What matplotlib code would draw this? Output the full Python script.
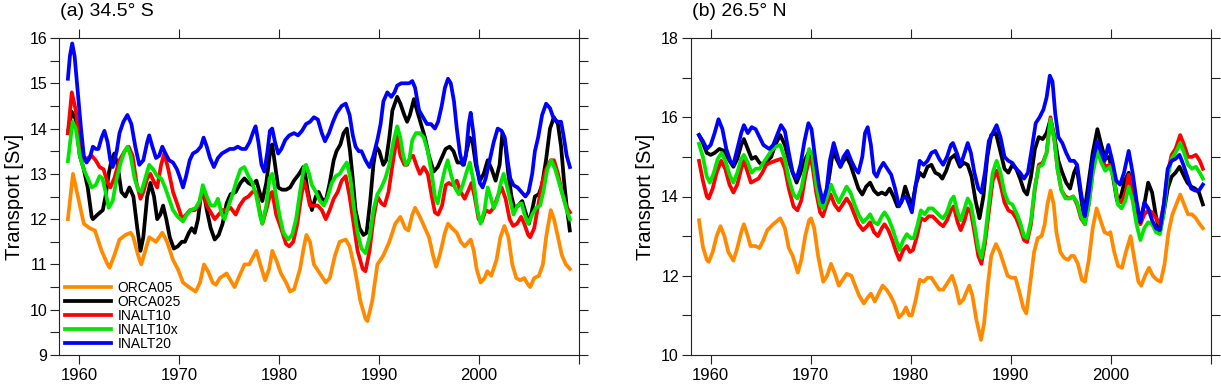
"""Two-panel AMOC transport time series at 34.5S and 26.5N."""

import matplotlib
matplotlib.use("Agg")
import matplotlib.pyplot as plt
from matplotlib.ticker import FixedLocator, FuncFormatter

plt.rcParams['font.family'] = ['Liberation Sans', 'DejaVu Sans']

models = ["ORCA05", "ORCA025", "INALT10", "INALT10x", "INALT20"]
colors = ["#ff8a00", "#000000", "#ff0000", "#00e600", "#0000ff"]

# ---- panel (a) 34.5 S ----
a_t_orca05 = [1958.89, 1959.40, 1960.48, 1961.07, 1961.59, 1962.26, 1962.86, 1963.06, 1963.53, 1964.05,
              1964.64, 1965.16, 1965.44, 1965.91, 1966.23, 1967.02, 1967.70, 1968.33, 1968.81, 1969.40,
              1969.88, 1970.40, 1970.99, 1971.67, 1972.10, 1972.50, 1972.90, 1973.37, 1973.69, 1974.09,
              1974.76, 1975.28, 1975.56, 1975.95, 1976.55, 1977.02, 1977.74, 1978.13, 1978.61, 1979.01,
              1979.33, 1979.72, 1980.20, 1980.71, 1981.11, 1981.51, 1982.10, 1982.50, 1982.74, 1983.10,
              1983.49, 1984.09, 1984.68, 1985.08, 1985.60, 1986.07, 1986.67, 1987.06, 1987.58, 1988.13,
              1988.65, 1988.85, 1989.33, 1989.84, 1990.44, 1991.03, 1991.63, 1992.14, 1992.62, 1992.94,
              1993.33, 1993.61, 1994.09, 1994.60, 1995.00, 1995.40, 1995.71, 1996.07, 1996.59, 1996.90,
              1997.30, 1997.78, 1998.17, 1998.57, 1999.17, 1999.48, 1999.76, 2000.16, 2000.56, 2000.83,
              2001.23, 2001.75, 2002.14, 2002.54, 2002.94, 2003.33, 2003.73, 2004.13, 2004.52, 2004.92,
              2005.12, 2005.52, 2005.99, 2006.39, 2006.71, 2007.18, 2007.50, 2007.90, 2008.29, 2008.69,
              2009.09]
a_orca05 = [12.0, 13.0, 11.9, 11.8, 11.75, 11.3, 11.0, 10.93, 11.2, 11.55,
            11.65, 11.7, 11.6, 11.2, 11.0, 11.6, 11.5, 11.7, 11.5, 11.1,
            10.9, 10.6, 10.5, 10.4, 10.6, 11.0, 10.85, 10.6, 10.55, 10.7,
            10.8, 10.6, 10.5, 10.7, 11.0, 11.0, 11.3, 11.0, 10.65, 10.9,
            11.3, 11.1, 10.8, 10.6, 10.4, 10.45, 10.9, 11.4, 11.65, 11.5,
            11.0, 10.8, 10.6, 10.7, 11.2, 11.5, 11.55, 11.4, 10.9, 10.2,
            9.8, 9.75, 10.2, 11.0, 11.2, 11.5, 11.9, 12.05, 11.8, 11.75,
            12.1, 12.25, 12.05, 11.8, 11.6, 11.2, 10.95, 11.2, 11.7, 11.9,
            11.8, 11.7, 11.5, 11.4, 11.55, 11.3, 10.9, 10.6, 10.7, 10.85,
            10.75, 11.1, 11.6, 11.85, 11.6, 11.0, 10.7, 10.65, 10.7, 10.55,
            10.5, 10.7, 10.75, 11.0, 11.6, 12.2, 12.0, 11.6, 11.2, 11.0,
            10.9]

a_t_orca025 = [1958.89, 1959.28, 1959.68, 1960.08, 1960.48, 1960.87, 1961.27, 1961.39, 1961.86, 1962.38,
               1962.65, 1962.97, 1963.25, 1963.53, 1963.85, 1964.24, 1964.64, 1965.04, 1965.44, 1965.83,
               1966.15, 1966.43, 1966.82, 1967.14, 1967.50, 1967.82, 1968.13, 1968.41, 1968.73, 1969.08,
               1969.48, 1969.88, 1970.28, 1970.59, 1970.99, 1971.27, 1971.58, 1971.90, 1972.18, 1972.50,
               1972.78, 1973.17, 1973.57, 1973.97, 1974.36, 1974.76, 1975.16, 1975.67, 1976.15, 1976.54,
               1976.94, 1977.34, 1977.74, 1978.05, 1978.33, 1978.73, 1979.12, 1979.32, 1979.60, 1979.92,
               1980.31, 1980.71, 1981.11, 1981.50, 1982.02, 1982.42, 1982.61, 1982.89, 1983.29, 1983.68,
               1983.96, 1984.28, 1984.68, 1985.07, 1985.47, 1985.75, 1986.14, 1986.46, 1986.78, 1987.10,
               1987.37, 1987.65, 1988.05, 1988.45, 1988.76, 1989.12, 1989.44, 1989.72, 1990.03, 1990.43,
               1990.71, 1991.03, 1991.34, 1991.82, 1992.14, 1992.53, 1992.81, 1993.09, 1993.49, 1993.80,
               1994.20, 1994.60, 1994.99, 1995.47, 1995.87, 1996.26, 1996.66, 1997.06, 1997.45, 1997.85,
               1998.17, 1998.49, 1998.76, 1999.08, 1999.36, 1999.68, 2000.08, 2000.47, 2000.87, 2001.27,
               2001.66, 2002.06, 2002.34, 2002.65, 2002.93, 2003.25, 2003.53, 2003.92, 2004.32, 2004.72,
               2004.99, 2005.31, 2005.59, 2005.98, 2006.30, 2006.70, 2007.10, 2007.49, 2007.89, 2008.21,
               2008.48, 2008.76, 2009.08]
a_orca025 = [13.9, 14.37, 14.2, 13.4, 13.1, 12.7, 12.05, 12.0, 12.1, 12.2,
             12.5, 13.0, 13.3, 13.45, 13.2, 12.6, 12.5, 12.7, 12.5, 11.8,
             11.3, 11.6, 12.5, 12.8, 12.5, 12.0, 12.1, 12.3, 12.0, 11.6,
             11.35, 11.4, 11.5, 11.5, 11.7, 11.8, 11.7, 12.0, 12.5, 12.55,
             12.2, 11.8, 11.55, 11.65, 11.9, 12.35, 12.55, 12.6, 12.8, 12.9,
             12.8, 12.75, 12.85, 12.6, 12.4, 12.8, 13.5, 13.65, 13.2, 12.7,
             12.65, 12.65, 12.7, 12.85, 13.0, 13.15, 13.0, 12.6, 12.2, 12.5,
             12.6, 12.45, 12.4, 12.8, 13.3, 13.5, 13.65, 13.9, 14.0, 13.5,
             12.9, 12.2, 11.8, 11.65, 11.7, 12.4, 13.2, 13.6, 13.5, 13.2,
             13.3, 13.8, 14.4, 14.7, 14.55, 14.3, 14.15, 14.3, 14.65, 14.4,
             14.1, 13.8, 13.4, 13.05, 13.15, 13.35, 13.55, 13.6, 13.5, 13.25,
             13.25, 13.2, 13.5, 13.8, 13.7, 13.2, 12.85, 13.0, 13.3, 13.1,
             12.85, 13.2, 13.9, 13.6, 13.0, 12.5, 12.25, 12.3, 12.4, 12.1,
             11.9, 12.2, 12.5, 12.55, 12.75, 13.3, 14.0, 14.25, 14.1, 13.6,
             12.9, 12.3, 11.75]

a_t_inalt10 = [1958.89, 1959.28, 1959.68, 1960.08, 1960.48, 1960.87, 1961.27, 1961.67, 1962.06, 1962.46,
               1962.86, 1963.13, 1963.53, 1964.05, 1964.56, 1964.96, 1965.36, 1965.75, 1966.15, 1966.43,
               1966.82, 1967.14, 1967.54, 1967.82, 1968.21, 1968.53, 1968.93, 1969.40, 1969.88, 1970.32,
               1970.71, 1971.11, 1971.58, 1971.98, 1972.38, 1972.78, 1973.17, 1973.57, 1973.97, 1974.36,
               1974.76, 1975.16, 1975.67, 1976.07, 1976.54, 1976.94, 1977.34, 1977.74, 1978.05, 1978.33,
               1978.73, 1979.12, 1979.32, 1979.72, 1980.20, 1980.71, 1981.03, 1981.43, 1981.83, 1982.22,
               1982.50, 1982.81, 1983.09, 1983.49, 1983.88, 1984.28, 1984.68, 1985.07, 1985.47, 1985.87,
               1986.27, 1986.67, 1987.06, 1987.46, 1987.86, 1988.37, 1988.65, 1989.05, 1989.44, 1989.84,
               1990.24, 1990.56, 1990.95, 1991.35, 1991.82, 1992.14, 1992.54, 1992.82, 1993.10, 1993.41,
               1993.81, 1994.09, 1994.48, 1994.88, 1995.28, 1995.59, 1995.91, 1996.31, 1996.67, 1996.98,
               1997.38, 1997.78, 1998.17, 1998.57, 1998.97, 1999.25, 1999.56, 1999.96, 2000.28, 2000.67,
               2001.07, 2001.47, 2001.87, 2002.26, 2002.66, 2003.06, 2003.41, 2003.81, 2004.21, 2004.52,
               2004.92, 2005.12, 2005.52, 2005.91, 2006.31, 2006.71, 2007.18, 2007.50, 2007.90, 2008.29,
               2008.69, 2009.09]
a_inalt10 = [13.9, 14.8, 14.4, 13.6, 13.3, 13.35, 13.4, 13.3, 13.15, 13.1,
             12.8, 12.7, 12.9, 13.3, 13.5, 13.6, 13.4, 12.8, 12.45, 12.6,
             12.9, 13.0, 12.8, 12.7, 13.2, 13.45, 13.1, 12.6, 12.3, 12.0,
             12.1, 12.2, 12.2, 12.3, 12.65, 12.3, 12.15, 12.0, 12.1, 12.2,
             12.2, 12.25, 12.1, 12.3, 12.45, 12.5, 12.6, 12.6, 12.2, 11.9,
             12.2, 12.55, 12.6, 12.1, 11.8, 11.45, 11.4, 11.5, 11.9, 12.5,
             12.85, 12.6, 12.3, 12.3, 12.3, 12.2, 12.0, 12.2, 12.45, 12.6,
             12.85, 12.95, 12.5, 11.9, 11.3, 10.9, 10.85, 11.3, 12.0, 12.5,
             12.35, 12.3, 12.6, 13.2, 13.85, 13.4, 13.2, 13.2, 13.35, 13.4,
             13.15, 13.0, 13.15, 13.0, 12.5, 12.15, 12.1, 12.3, 12.75, 12.8,
             12.75, 12.85, 12.6, 12.45, 12.65, 12.8, 12.5, 12.0, 11.95, 12.2,
             12.15, 12.25, 12.5, 12.7, 12.45, 12.0, 11.85, 11.9, 12.05, 11.9,
             11.65, 11.6, 11.8, 12.3, 12.8, 13.1, 13.3, 13.3, 13.0, 12.6,
             12.3, 12.15]

a_t_inalt10x = [1958.89, 1959.36, 1959.68, 1960.08, 1960.48, 1960.87, 1961.27, 1961.67, 1962.06, 1962.34,
                1962.66, 1962.97, 1963.37, 1963.77, 1964.17, 1964.56, 1964.84, 1965.16, 1965.56, 1965.91,
                1966.23, 1966.63, 1967.02, 1967.42, 1967.82, 1968.21, 1968.61, 1969.01, 1969.40, 1969.88,
                1970.40, 1970.79, 1971.19, 1971.67, 1972.06, 1972.38, 1972.78, 1973.17, 1973.57, 1973.89,
                1974.29, 1974.56, 1974.96, 1975.36, 1975.75, 1976.15, 1976.54, 1976.94, 1977.34, 1977.74,
                1978.13, 1978.33, 1978.73, 1979.05, 1979.32, 1979.64, 1980.04, 1980.44, 1980.91, 1981.31,
                1981.71, 1982.10, 1982.50, 1982.70, 1983.01, 1983.29, 1983.69, 1984.09, 1984.48, 1984.88,
                1985.28, 1985.67, 1986.07, 1986.47, 1986.78, 1987.14, 1987.46, 1987.86, 1988.25, 1988.65,
                1989.05, 1989.44, 1989.84, 1990.24, 1990.63, 1991.03, 1991.43, 1991.82, 1992.14, 1992.42,
                1992.70, 1993.02, 1993.33, 1993.69, 1994.09, 1994.48, 1994.88, 1995.28, 1995.59, 1995.87,
                1996.19, 1996.59, 1996.87, 1997.18, 1997.58, 1997.98, 1998.37, 1998.77, 1999.09, 1999.48,
                1999.84, 2000.16, 2000.56, 2000.87, 2001.15, 2001.47, 2001.79, 2002.18, 2002.46, 2002.82,
                2003.13, 2003.45, 2003.85, 2004.25, 2004.56, 2004.92, 2005.32, 2005.71, 2006.11, 2006.43,
                2006.83, 2007.22, 2007.62, 2008.02, 2008.41, 2008.77, 2009.09]
a_inalt10x = [13.28, 14.15, 14.0, 13.4, 13.1, 12.9, 12.7, 12.75, 12.95, 12.9,
              12.6, 12.25, 12.4, 12.9, 13.25, 13.5, 13.6, 13.4, 12.9, 12.65,
              12.6, 12.9, 13.2, 13.1, 12.95, 12.9, 12.7, 12.45, 12.2, 12.05,
              11.95, 12.1, 12.2, 12.25, 12.4, 12.75, 12.5, 12.3, 12.3, 12.45,
              12.1, 12.0, 12.3, 12.55, 12.85, 13.1, 13.15, 12.95, 12.8, 12.5,
              12.05, 11.9, 12.3, 12.9, 13.0, 12.6, 12.1, 11.7, 11.55, 11.65,
              12.0, 12.6, 13.15, 13.2, 13.0, 12.75, 12.6, 12.4, 12.3, 12.5,
              12.8, 12.95, 13.0, 13.15, 13.25, 12.9, 12.3, 11.7, 11.35, 11.25,
              11.6, 12.2, 12.55, 12.7, 12.9, 13.2, 13.7, 14.05, 13.8, 13.4,
              13.2, 13.3, 13.75, 13.9, 13.9, 13.8, 13.5, 13.0, 12.5, 12.35,
              12.7, 13.1, 13.3, 13.0, 12.7, 12.55, 12.75, 13.05, 13.25, 12.8,
              12.2, 11.9, 12.2, 12.7, 12.5, 12.25, 12.4, 12.8, 13.0, 12.7,
              12.4, 12.1, 12.3, 12.35, 12.1, 11.9, 12.1, 12.25, 12.3, 12.6,
              13.1, 13.3, 13.1, 12.8, 12.5, 12.2, 12.0]

a_t_inalt20 = [1958.89, 1959.09, 1959.32, 1959.56, 1959.88, 1960.20, 1960.48, 1960.75, 1961.07, 1961.39,
               1961.67, 1961.94, 1962.26, 1962.54, 1962.86, 1963.13, 1963.37, 1963.77, 1964.05, 1964.44,
               1964.84, 1965.24, 1965.63, 1966.03, 1966.43, 1966.82, 1967.02, 1967.34, 1967.70, 1968.02,
               1968.33, 1968.65, 1969.01, 1969.40, 1969.80, 1970.12, 1970.40, 1970.71, 1971.07, 1971.39,
               1971.79, 1972.18, 1972.46, 1972.78, 1973.10, 1973.49, 1973.89, 1974.29, 1974.68, 1975.08,
               1975.48, 1975.87, 1976.27, 1976.67, 1977.06, 1977.46, 1977.66, 1977.94, 1978.25, 1978.53,
               1978.85, 1979.09, 1979.32, 1979.60, 1979.92, 1980.24, 1980.63, 1981.03, 1981.50, 1981.90,
               1982.30, 1982.70, 1983.10, 1983.49, 1983.89, 1984.28, 1984.60, 1985.00, 1985.40, 1985.79,
               1986.27, 1986.67, 1987.06, 1987.38, 1987.66, 1987.98, 1988.25, 1988.65, 1989.05, 1989.44,
               1989.84, 1990.16, 1990.44, 1990.83, 1991.23, 1991.55, 1991.82, 1992.22, 1992.62, 1993.01,
               1993.33, 1993.61, 1994.01, 1994.40, 1994.80, 1995.20, 1995.59, 1995.91, 1996.27, 1996.59,
               1996.90, 1997.18, 1997.50, 1997.78, 1998.10, 1998.37, 1998.69, 1998.97, 1999.17, 1999.44,
               1999.76, 2000.08, 2000.36, 2000.67, 2001.07, 2001.47, 2001.87, 2002.26, 2002.58, 2002.86,
               2003.13, 2003.45, 2003.85, 2004.25, 2004.64, 2004.96, 2005.32, 2005.59, 2005.91, 2006.31,
               2006.71, 2007.10, 2007.50, 2007.90, 2008.21, 2008.49, 2008.77, 2009.09]
a_inalt20 = [15.1, 15.6, 15.88, 15.6, 14.8, 14.0, 13.4, 13.25, 13.35, 13.6,
             13.55, 13.55, 13.8, 13.95, 13.7, 13.3, 13.15, 13.5, 13.9, 14.15,
             14.3, 14.1, 13.6, 13.2, 13.3, 13.7, 13.85, 13.6, 13.35, 13.4,
             13.6, 13.45, 13.3, 13.25, 13.1, 12.9, 12.7, 12.95, 13.3, 13.45,
             13.5, 13.6, 13.8, 13.6, 13.35, 13.15, 13.35, 13.45, 13.5, 13.55,
             13.55, 13.6, 13.55, 13.55, 13.7, 13.95, 14.05, 13.7, 13.2, 13.05,
             13.5, 13.95, 14.0, 13.7, 13.45, 13.55, 13.75, 13.85, 13.9, 13.85,
             13.95, 14.1, 14.15, 14.25, 14.2, 13.9, 13.72, 13.9, 14.15, 14.35,
             14.5, 14.55, 14.3, 13.85, 13.6, 13.5, 13.5, 13.3, 13.15, 13.4,
             13.75, 14.1, 14.6, 14.8, 14.7, 14.8, 14.95, 15.0, 15.0, 15.0,
             15.05, 14.9, 14.4, 14.25, 14.1, 14.1, 14.0, 14.15, 14.5, 14.9,
             15.1, 15.0, 14.6, 14.0, 13.45, 13.2, 13.4, 14.1, 14.35, 13.9,
             13.2, 12.8, 12.7, 12.9, 13.3, 13.7, 14.0, 13.95, 13.8, 13.3,
             12.9, 12.75, 12.7, 12.6, 12.5, 12.6, 13.0, 13.5, 13.8, 14.3,
             14.55, 14.45, 14.2, 14.15, 14.15, 13.8, 13.4, 13.15]

# ---- panel (b) 26.5 N ----
b_t_orca05 = [1958.83, 1959.22, 1959.61, 1959.80, 1960.20, 1960.59, 1960.98, 1961.37, 1961.76, 1962.27,
              1962.66, 1963.05, 1963.32, 1963.71, 1963.98, 1964.49, 1964.88, 1965.27, 1965.66, 1966.25,
              1966.95, 1967.42, 1967.81, 1968.20, 1968.71, 1969.06, 1969.45, 1969.84, 1970.04, 1970.35,
              1970.74, 1971.25, 1971.64, 1972.03, 1972.42, 1972.81, 1973.20, 1973.59, 1974.06, 1974.45,
              1974.84, 1975.31, 1975.70, 1976.02, 1976.41, 1976.80, 1977.19, 1977.58, 1977.97, 1978.36,
              1978.83, 1979.22, 1979.53, 1979.84, 1980.12, 1980.51, 1980.90, 1981.29, 1981.68, 1982.07,
              1982.46, 1982.85, 1983.24, 1983.63, 1984.14, 1984.53, 1984.88, 1985.27, 1985.59, 1985.86,
              1986.17, 1986.56, 1987.03, 1987.34, 1987.73, 1988.05, 1988.52, 1988.91, 1989.30, 1989.69,
              1990.08, 1990.47, 1990.86, 1991.25, 1991.56, 1991.95, 1992.34, 1992.70, 1993.09, 1993.40,
              1993.67, 1993.98, 1994.30, 1994.57, 1994.96, 1995.35, 1995.74, 1996.05, 1996.33, 1996.72,
              1997.11, 1997.42, 1997.81, 1998.20, 1998.59, 1998.98, 1999.38, 1999.77, 1999.96, 2000.35,
              2000.74, 2001.13, 2001.52, 2001.99, 2002.38, 2002.77, 2003.05, 2003.44, 2003.83, 2004.22,
              2004.61, 2005.00, 2005.39, 2005.78, 2006.17, 2006.56, 2006.95, 2007.34, 2007.73, 2008.13,
              2008.52, 2008.91, 2009.22]
b_orca05 = [13.4, 12.73, 12.4, 12.35, 12.6, 13.0, 13.25, 13.0, 12.6, 12.38,
            12.7, 13.1, 13.3, 13.0, 12.75, 12.75, 12.7, 12.9, 13.15, 13.3,
            13.45, 13.2, 12.7, 12.5, 12.08, 12.4, 13.0, 13.4, 13.45, 13.2,
            12.5, 11.85, 12.0, 12.3, 12.05, 11.75, 11.9, 12.05, 12.0, 11.75,
            11.5, 11.3, 11.45, 11.55, 11.35, 11.55, 11.75, 11.65, 11.5, 11.3,
            10.95, 11.05, 11.2, 11.0, 11.0, 11.4, 11.9, 11.85, 11.95, 11.95,
            11.8, 11.65, 11.65, 11.8, 12.0, 11.7, 11.3, 11.4, 11.6, 11.75,
            11.5, 10.9, 10.38, 10.8, 11.8, 12.5, 12.8, 12.6, 12.3, 12.0,
            11.95, 11.95, 11.6, 11.2, 11.05, 11.8, 12.6, 12.95, 13.0, 13.3,
            13.8, 14.15, 13.8, 13.1, 12.6, 12.45, 12.4, 12.5, 12.5, 12.3,
            11.9, 11.85, 12.4, 13.2, 13.7, 13.4, 13.1, 13.05, 13.1, 12.6,
            12.25, 12.2, 12.6, 13.0, 12.4, 11.85, 11.75, 12.0, 12.2, 12.0,
            11.9, 11.85, 12.3, 13.1, 13.55, 13.8, 14.05, 13.8, 13.55, 13.55,
            13.45, 13.3, 13.2]

b_t_orca025 = [1958.83, 1959.22, 1959.61, 1960.00, 1960.39, 1960.86, 1961.37, 1961.76, 1962.27, 1962.66,
               1963.05, 1963.32, 1963.71, 1964.10, 1964.49, 1964.88, 1965.27, 1965.66, 1966.05, 1966.45,
               1966.95, 1967.42, 1967.81, 1968.20, 1968.59, 1968.98, 1969.38, 1969.77, 1970.08, 1970.43,
               1970.82, 1971.21, 1971.60, 1971.91, 1972.23, 1972.58, 1972.97, 1973.28, 1973.59, 1973.98,
               1974.38, 1974.77, 1975.16, 1975.55, 1975.94, 1976.33, 1976.72, 1977.11, 1977.50, 1977.89,
               1978.28, 1978.67, 1979.06, 1979.45, 1979.77, 1980.12, 1980.51, 1980.90, 1981.29, 1981.68,
               1982.07, 1982.46, 1982.85, 1983.16, 1983.55, 1983.95, 1984.41, 1984.92, 1985.31, 1985.70,
               1986.09, 1986.48, 1986.88, 1987.27, 1987.66, 1988.05, 1988.52, 1988.91, 1989.38, 1989.77,
               1990.16, 1990.55, 1990.94, 1991.33, 1991.64, 1992.03, 1992.42, 1992.81, 1993.20, 1993.59,
               1993.98, 1994.38, 1994.77, 1995.16, 1995.55, 1995.94, 1996.33, 1996.60, 1996.91, 1997.30,
               1997.70, 1998.20, 1998.67, 1999.06, 1999.45, 1999.84, 2000.23, 2000.63, 2001.02, 2001.41,
               2001.80, 2002.19, 2002.58, 2002.97, 2003.36, 2003.75, 2004.14, 2004.53, 2004.92, 2005.31,
               2005.70, 2006.09, 2006.48, 2006.88, 2007.27, 2007.66, 2008.05, 2008.44, 2008.83, 2009.22]
b_orca025 = [15.55, 15.35, 15.1, 15.05, 15.1, 15.2, 15.15, 14.95, 14.75, 14.95,
             15.3, 15.45, 15.2, 14.95, 15.0, 14.85, 14.8, 14.9, 15.0, 15.3,
             15.55, 15.3, 14.9, 14.6, 14.35, 14.6, 14.9, 15.1, 15.0, 14.6,
             14.1, 13.8, 14.1, 14.6, 15.15, 14.95, 14.75, 14.9, 15.0, 14.8,
             14.5, 14.2, 14.05, 14.25, 14.35, 14.15, 14.05, 14.1, 14.05, 14.2,
             14.0, 13.75, 13.85, 14.25, 14.0, 13.75, 14.3, 14.6, 14.5, 14.75,
             14.8, 14.6, 14.55, 14.45, 14.65, 14.95, 15.05, 14.75, 14.85, 14.8,
             14.5, 13.9, 13.45, 14.0, 15.0, 15.55, 15.6, 15.2, 14.7, 14.6,
             14.8, 14.7, 14.45, 14.15, 14.05, 14.5, 15.2, 15.5, 15.45, 15.6,
             15.95, 15.5, 14.9, 14.6, 14.35, 14.2, 14.6, 14.75, 14.2, 13.5,
             14.2, 15.1, 15.7, 15.3, 14.95, 15.0, 14.5, 13.9, 14.0, 14.4,
             14.6, 14.2, 13.6, 13.35, 13.8, 14.35, 14.1, 13.5, 13.1, 13.6,
             14.2, 14.5, 14.6, 14.75, 14.55, 14.35, 14.25, 14.2, 14.1, 13.8]

b_t_inalt10 = [1958.83, 1959.22, 1959.61, 1959.80, 1960.20, 1960.59, 1961.05, 1961.45, 1961.88, 1962.27,
               1962.66, 1963.05, 1963.32, 1963.71, 1964.02, 1964.38, 1964.77, 1965.16, 1965.55, 1965.94,
               1966.45, 1967.03, 1967.42, 1967.81, 1968.28, 1968.67, 1969.06, 1969.45, 1969.84, 1970.16,
               1970.55, 1970.94, 1971.21, 1971.60, 1971.99, 1972.38, 1972.81, 1973.20, 1973.59, 1973.98,
               1974.38, 1974.77, 1975.23, 1975.63, 1975.94, 1976.33, 1976.72, 1977.11, 1977.38, 1977.77,
               1978.16, 1978.55, 1978.87, 1979.26, 1979.61, 1979.92, 1980.23, 1980.63, 1981.02, 1981.41,
               1981.80, 1982.19, 1982.58, 1982.97, 1983.24, 1983.63, 1984.02, 1984.30, 1984.69, 1985.00,
               1985.39, 1985.70, 1986.02, 1986.37, 1986.76, 1987.07, 1987.42, 1987.81, 1988.20, 1988.59,
               1988.98, 1989.38, 1989.77, 1990.16, 1990.55, 1990.94, 1991.33, 1991.64, 1992.03, 1992.42,
               1992.81, 1993.20, 1993.59, 1993.98, 1994.38, 1994.68, 1995.08, 1995.47, 1995.86, 1996.25,
               1996.64, 1997.03, 1997.42, 1997.81, 1998.20, 1998.67, 1999.06, 1999.45, 1999.92, 2000.31,
               2000.70, 2001.09, 2001.48, 2001.80, 2002.19, 2002.58, 2002.97, 2003.36, 2003.75, 2004.14,
               2004.53, 2004.92, 2005.31, 2005.70, 2006.09, 2006.48, 2006.95, 2007.34, 2007.73, 2008.13,
               2008.52, 2008.91, 2009.22]
b_inalt10 = [14.9, 14.4, 14.0, 13.95, 14.2, 14.6, 14.9, 14.7, 14.3, 14.1,
             14.3, 14.7, 14.9, 14.6, 14.35, 14.4, 14.45, 14.6, 14.8, 14.85,
             14.9, 14.95, 14.7, 14.2, 13.75, 13.65, 13.9, 14.5, 14.95, 14.8,
             14.1, 13.6, 13.5, 13.8, 14.05, 13.8, 13.65, 13.8, 13.95, 13.8,
             13.55, 13.3, 13.15, 13.25, 13.35, 13.1, 13.0, 13.2, 13.3, 13.15,
             12.9, 12.6, 12.4, 12.65, 12.75, 12.6, 12.65, 13.0, 13.45, 13.4,
             13.5, 13.5, 13.4, 13.3, 13.25, 13.4, 13.65, 13.75, 13.35, 13.15,
             13.4, 13.7, 13.6, 13.1, 12.5, 12.3, 12.8, 13.6, 14.4, 14.65,
             14.3, 13.85, 13.65, 13.6, 13.45, 13.2, 12.9, 12.85, 13.3, 14.2,
             14.8, 14.85, 15.1, 16.0, 15.4, 14.7, 14.15, 14.0, 13.95, 14.0,
             13.8, 13.45, 13.3, 13.8, 14.6, 15.25, 15.0, 14.75, 14.8, 14.5,
             13.9, 13.85, 14.1, 14.55, 14.1, 13.6, 13.3, 13.55, 13.65, 13.6,
             13.45, 13.3, 13.8, 14.6, 15.05, 15.2, 15.55, 15.3, 15.0, 15.0,
             15.05, 14.9, 14.7]

b_t_inalt10x = [1958.83, 1959.22, 1959.61, 1959.92, 1960.31, 1960.70, 1961.09, 1961.48, 1961.88, 1962.27,
                1962.66, 1963.05, 1963.32, 1963.71, 1964.10, 1964.49, 1964.88, 1965.27, 1965.66, 1966.05,
                1966.45, 1966.95, 1967.42, 1967.81, 1968.28, 1968.67, 1969.06, 1969.45, 1969.84, 1970.16,
                1970.55, 1970.94, 1971.25, 1971.64, 1972.03, 1972.42, 1972.81, 1973.20, 1973.59, 1973.98,
                1974.38, 1974.77, 1975.23, 1975.63, 1975.94, 1976.33, 1976.72, 1977.11, 1977.38, 1977.77,
                1978.16, 1978.55, 1978.87, 1979.26, 1979.61, 1980.00, 1980.31, 1980.70, 1981.02, 1981.41,
                1981.80, 1982.19, 1982.58, 1982.97, 1983.24, 1983.63, 1984.02, 1984.30, 1984.69, 1985.00,
                1985.39, 1985.70, 1986.02, 1986.37, 1986.76, 1987.07, 1987.42, 1987.81, 1988.20, 1988.59,
                1988.98, 1989.38, 1989.77, 1990.16, 1990.55, 1990.94, 1991.33, 1991.64, 1992.03, 1992.42,
                1992.81, 1993.20, 1993.59, 1993.98, 1994.38, 1994.68, 1995.08, 1995.47, 1995.86, 1996.25,
                1996.64, 1997.03, 1997.42, 1997.81, 1998.20, 1998.67, 1999.06, 1999.45, 1999.92, 2000.31,
                2000.70, 2001.09, 2001.48, 2001.80, 2002.19, 2002.58, 2002.97, 2003.36, 2003.75, 2004.14,
                2004.53, 2004.92, 2005.31, 2005.70, 2006.09, 2006.48, 2006.95, 2007.34, 2007.73, 2008.13,
                2008.52, 2008.91, 2009.22]
b_inalt10x = [15.33, 15.0, 14.5, 14.35, 14.6, 14.95, 15.1, 14.9, 14.55, 14.35,
              14.6, 14.95, 15.05, 14.85, 14.6, 14.7, 14.7, 14.85, 15.0, 15.15,
              15.25, 15.3, 14.95, 14.45, 14.05, 13.95, 14.2, 14.7, 15.2, 15.05,
              14.3, 13.8, 13.7, 14.0, 14.3, 14.05, 13.85, 14.05, 14.25, 14.1,
              13.8, 13.55, 13.35, 13.45, 13.55, 13.35, 13.3, 13.5, 13.6, 13.45,
              13.2, 12.9, 12.65, 12.9, 13.05, 12.95, 12.95, 13.3, 13.65, 13.55,
              13.7, 13.7, 13.6, 13.5, 13.45, 13.6, 13.9, 14.0, 13.6, 13.4,
              13.7, 13.95, 13.8, 13.3, 12.7, 12.45, 12.95, 13.8, 14.6, 14.9,
              14.6, 14.1, 13.85, 13.8, 13.6, 13.35, 13.0, 12.95, 13.4, 14.25,
              14.75, 14.8, 15.1, 15.95, 15.4, 14.7, 14.15, 13.95, 13.95, 14.0,
              13.85, 13.5, 13.3, 13.8, 14.6, 15.15, 14.85, 14.65, 14.75, 14.45,
              13.8, 13.7, 13.9, 14.25, 13.9, 13.3, 12.9, 13.2, 13.35, 13.3,
              13.1, 13.05, 13.6, 14.5, 14.95, 15.1, 15.35, 15.1, 14.8, 14.7,
              14.75, 14.6, 14.45]

b_t_inalt20 = [1958.83, 1959.22, 1959.61, 1960.00, 1960.39, 1960.78, 1961.17, 1961.56, 1961.95, 1962.27,
               1962.66, 1963.05, 1963.32, 1963.71, 1964.10, 1964.49, 1964.88, 1965.27, 1965.86, 1966.25,
               1966.64, 1967.03, 1967.42, 1967.81, 1968.20, 1968.59, 1968.98, 1969.38, 1969.77, 1970.08,
               1970.43, 1970.82, 1971.21, 1971.60, 1971.91, 1972.30, 1972.70, 1972.97, 1973.28, 1973.67,
               1974.06, 1974.45, 1974.77, 1975.16, 1975.43, 1975.70, 1976.02, 1976.33, 1976.60, 1976.91,
               1977.27, 1977.66, 1978.05, 1978.44, 1978.83, 1979.22, 1979.53, 1979.84, 1980.12, 1980.51,
               1980.90, 1981.29, 1981.68, 1982.07, 1982.46, 1982.85, 1983.24, 1983.63, 1984.02, 1984.22,
               1984.61, 1985.00, 1985.39, 1985.70, 1986.02, 1986.37, 1986.76, 1987.07, 1987.42, 1987.81,
               1988.20, 1988.59, 1988.98, 1989.38, 1989.77, 1990.16, 1990.55, 1990.94, 1991.33, 1991.72,
               1992.11, 1992.50, 1992.89, 1993.28, 1993.59, 1993.91, 1994.18, 1994.45, 1994.77, 1995.16,
               1995.55, 1995.94, 1996.33, 1996.64, 1997.03, 1997.42, 1997.81, 1998.20, 1998.67, 1999.06,
               1999.38, 1999.77, 2000.16, 2000.55, 2000.94, 2001.33, 2001.80, 2002.19, 2002.58, 2002.97,
               2003.36, 2003.75, 2004.14, 2004.53, 2004.92, 2005.31, 2005.70, 2006.09, 2006.48, 2006.88,
               2007.27, 2007.66, 2008.05, 2008.44, 2008.83, 2009.22]
b_inalt20 = [15.55, 15.4, 15.2, 15.3, 15.6, 15.95, 15.7, 15.2, 14.9, 14.8,
             15.2, 15.6, 15.8, 15.6, 15.75, 15.7, 15.5, 15.3, 15.2, 15.3,
             15.55, 15.8, 15.65, 15.1, 14.6, 14.45, 14.8, 15.4, 15.85, 15.7,
             15.0, 14.3, 13.85, 14.2, 14.9, 15.35, 15.0, 14.75, 15.0, 15.15,
             14.9, 14.7, 14.6, 15.0, 15.6, 15.75, 15.3, 14.6, 14.5, 14.7,
             14.85, 14.7, 14.55, 14.2, 13.75, 13.95, 14.0, 13.8, 13.6, 14.3,
             14.9, 14.8, 14.9, 15.1, 15.15, 14.95, 14.8, 15.0, 15.3, 15.35,
             15.1, 14.8, 15.1, 15.35, 15.1, 14.6, 14.2, 14.1, 14.6, 15.4,
             15.6, 15.8, 15.5, 15.0, 14.9, 14.85, 14.7, 14.6, 14.45, 14.6,
             15.2, 15.85, 16.0, 16.2, 16.5, 17.05, 16.9, 16.1, 15.5, 15.35,
             15.1, 14.9, 14.9, 14.8, 14.1, 13.5, 14.1, 14.9, 15.4, 15.1,
             14.9, 15.3, 14.9, 14.4, 14.3, 14.6, 15.15, 14.6, 13.9, 13.35,
             13.85, 13.7, 13.4, 13.2, 13.15, 13.8, 14.7, 14.9, 14.95, 15.05,
             14.8, 14.5, 14.2, 14.15, 14.15, 14.3]

panels = [
    dict(title="(a) 34.5\u00b0 S", ylim=(9, 16), ystep=0.5, ylabel_every=1,
         series=[(a_t_orca05, a_orca05), (a_t_orca025, a_orca025), (a_t_inalt10, a_inalt10),
                 (a_t_inalt10x, a_inalt10x), (a_t_inalt20, a_inalt20)]),
    dict(title="(b) 26.5\u00b0 N", ylim=(10, 18), ystep=1, ylabel_every=2,
         series=[(b_t_orca05, b_orca05), (b_t_orca025, b_orca025), (b_t_inalt10, b_inalt10),
                 (b_t_inalt10x, b_inalt10x), (b_t_inalt20, b_inalt20)]),
]

W, H = 1221, 384
fig = plt.figure(figsize=(W / 100, H / 100), dpi=100)
lefts = [59, 690.7]

for i, p in enumerate(panels):
    ax = fig.add_axes([lefts[i] / W, 29 / H, 520 / W, 317 / H])
    for (t, v), name, c in zip(p["series"], models, colors):
        ax.plot(t, v, color=c, lw=2.7, label=name, solid_joinstyle="round")

    ax.set_xlim(1958, 2010)
    ax.set_ylim(*p["ylim"])
    xt = list(range(1960, 2011, 10))
    ax.xaxis.set_major_locator(FixedLocator(xt))
    ax.xaxis.set_major_formatter(FuncFormatter(lambda x, pos: "" if x > 2005 else "%d" % x))
    lo, hi = p["ylim"]
    n = int(round((hi - lo) / p["ystep"]))
    yt = [lo + k * p["ystep"] for k in range(n + 1)]
    ax.yaxis.set_major_locator(FixedLocator(yt))
    every = p["ylabel_every"]
    ax.yaxis.set_major_formatter(
        FuncFormatter(lambda y, pos, e=every: "%d" % round(y) if abs(y / e - round(y / e)) < 1e-6 else ""))

    ax.tick_params(which="both", direction="out", length=6.5, width=0.8,
                   top=True, right=True, colors="#222222")
    ax.tick_params(axis="x", labelsize=12, pad=3, labelcolor="black")
    ax.tick_params(axis="y", labelsize=11.5, pad=2, labelcolor="black")
    for s in ax.spines.values():
        s.set_linewidth(0.8)
        s.set_color("#222222")

    ax.set_ylabel("Transport [Sv]", fontsize=14.5, labelpad=4)
    fig.text((lefts[i] + 1) / W, 1 - 11 / H, p["title"], fontsize=14, va="center", ha="left")

    if i == 0:
        ax.legend(loc="lower left", bbox_to_anchor=(0.012, 0.012), frameon=False, fontsize=10,
                  handlelength=3.3, handletextpad=0.45, labelspacing=0.0, borderpad=0,
                  borderaxespad=0)

fig.savefig("out.png", dpi=100)
